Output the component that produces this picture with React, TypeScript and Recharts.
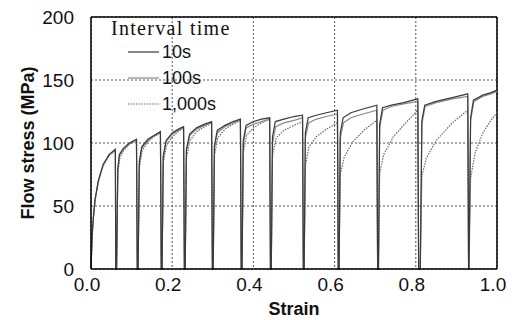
import { CartesianGrid, Line, LineChart, ReferenceLine, XAxis, YAxis } from "recharts";

// [strain, flow stress MPa], cycle by cycle (each cycle unloads to 0)
const s10: number[][] = [
  [0, 0], [0.003, 28], [0.006, 42], [0.01, 55], [0.018, 70], [0.03, 83], [0.045, 91], [0.06, 95], [0.061, 0],
  [0.063, 0], [0.066, 80], [0.07, 91], [0.08, 96], [0.095, 100], [0.112, 103], [0.114, 0],
  [0.116, 0], [0.119, 85], [0.125, 97], [0.14, 103], [0.155, 106], [0.171, 109], [0.173, 0],
  [0.175, 0], [0.178, 90], [0.185, 102], [0.2, 108], [0.215, 111], [0.228, 113], [0.23, 0],
  [0.232, 0], [0.235, 95], [0.243, 107], [0.26, 112], [0.28, 115], [0.297, 117], [0.299, 0],
  [0.301, 0], [0.304, 98], [0.311, 110], [0.33, 114], [0.35, 117], [0.368, 119], [0.37, 0],
  [0.372, 0], [0.375, 102], [0.382, 114], [0.4, 117], [0.42, 119], [0.44, 120], [0.442, 0],
  [0.444, 0], [0.447, 105], [0.454, 117], [0.475, 119], [0.5, 121], [0.521, 122], [0.523, 0],
  [0.525, 0], [0.528, 108], [0.535, 120], [0.555, 122], [0.58, 124], [0.607, 126], [0.609, 0],
  [0.611, 0], [0.614, 108], [0.621, 120], [0.64, 124], [0.67, 127], [0.704, 130], [0.706, 0],
  [0.708, 0], [0.711, 115], [0.718, 128], [0.74, 130], [0.77, 132], [0.805, 135], [0.807, 0],
  [0.811, 0], [0.815, 118], [0.822, 130], [0.85, 133], [0.89, 136], [0.928, 139], [0.93, 0],
  [0.931, 0], [0.935, 120], [0.942, 134], [0.965, 138], [0.985, 140], [1.0, 142],
];

const s100: number[][] = [
  [0, 0], [0.003, 27], [0.006, 41], [0.01, 55], [0.018, 70], [0.03, 83], [0.045, 91], [0.06, 94], [0.061, 0],
  [0.063, 0], [0.066, 78], [0.07, 90], [0.08, 95], [0.095, 100], [0.112, 102], [0.114, 0],
  [0.116, 0], [0.119, 83], [0.125, 96], [0.14, 102], [0.155, 106], [0.171, 108], [0.173, 0],
  [0.175, 0], [0.178, 88], [0.185, 101], [0.2, 107], [0.215, 110], [0.228, 112], [0.23, 0],
  [0.232, 0], [0.235, 93], [0.243, 106], [0.26, 111], [0.28, 114], [0.297, 116], [0.299, 0],
  [0.301, 0], [0.304, 96], [0.311, 108], [0.33, 113], [0.35, 116], [0.368, 118], [0.37, 0],
  [0.372, 0], [0.375, 99], [0.382, 112], [0.4, 115], [0.42, 117], [0.44, 119], [0.442, 0],
  [0.444, 0], [0.447, 100], [0.455, 113], [0.475, 116], [0.5, 118], [0.521, 120], [0.523, 0],
  [0.525, 0], [0.528, 104], [0.536, 116], [0.555, 119], [0.58, 121], [0.607, 123], [0.609, 0],
  [0.611, 0], [0.614, 104], [0.622, 116], [0.64, 120], [0.67, 123], [0.704, 126], [0.706, 0],
  [0.708, 0], [0.711, 112], [0.719, 126], [0.74, 129], [0.77, 131], [0.805, 133], [0.807, 0],
  [0.811, 0], [0.815, 115], [0.823, 129], [0.85, 132], [0.89, 135], [0.928, 137], [0.93, 0],
  [0.931, 0], [0.935, 118], [0.943, 133], [0.965, 137], [0.985, 139], [1.0, 141],
];

const s1000: number[][] = [
  [0, 0], [0.003, 27], [0.006, 41], [0.01, 54], [0.018, 69], [0.03, 82], [0.045, 90], [0.06, 94], [0.061, 0],
  [0.063, 0], [0.066, 76], [0.071, 88], [0.08, 94], [0.095, 99], [0.112, 102], [0.114, 0],
  [0.116, 0], [0.119, 80], [0.126, 94], [0.14, 101], [0.155, 105], [0.171, 108], [0.173, 0],
  [0.175, 0], [0.178, 84], [0.186, 98], [0.2, 105], [0.215, 109], [0.228, 112], [0.23, 0],
  [0.232, 0], [0.235, 88], [0.244, 102], [0.26, 109], [0.28, 113], [0.297, 116], [0.299, 0],
  [0.301, 0], [0.304, 90], [0.312, 104], [0.33, 111], [0.35, 115], [0.368, 118], [0.37, 0],
  [0.372, 0], [0.375, 92], [0.383, 106], [0.4, 112], [0.42, 116], [0.44, 119], [0.442, 0],
  [0.444, 0], [0.447, 90], [0.456, 104], [0.475, 110], [0.5, 114], [0.521, 117], [0.523, 0],
  [0.525, 0], [0.528, 82], [0.537, 97], [0.555, 105], [0.58, 111], [0.607, 116], [0.609, 0],
  [0.611, 0], [0.614, 75], [0.624, 89], [0.645, 101], [0.675, 111], [0.704, 118], [0.706, 0],
  [0.708, 0], [0.711, 76], [0.721, 91], [0.745, 105], [0.775, 116], [0.805, 126], [0.807, 0],
  [0.811, 0], [0.815, 74], [0.826, 88], [0.85, 102], [0.89, 116], [0.928, 126], [0.93, 0],
  [0.931, 0], [0.935, 72], [0.946, 92], [0.965, 108], [0.985, 118], [1.0, 124],
];

const xTicks = [0, 0.2, 0.4, 0.6, 0.8, 1.0];
const yTicks = [0, 50, 100, 150, 200];

const series = [
  { name: "1,000s", points: s1000, color: "#666", dash: "1.5 1.2" },
  { name: "100s", points: s100, color: "#8a8a8a", dash: undefined },
  { name: "10s", points: s10, color: "#3a3a3a", dash: undefined },
];

const toRows = (pts: number[][]) => pts.map(([x, y]) => ({ x, y }));

const sans = "'Liberation Sans', Arial, sans-serif";

export default function App() {
  return (
    <div style={{ position: "fixed", left: 0, top: 0, width: 516, height: 320, background: "#fff" }}>
      <LineChart width={516} height={320} margin={{ top: 17, right: 19, left: 0, bottom: 0 }}>
        <CartesianGrid stroke="#555" strokeDasharray="2 2" />
        <XAxis
          dataKey="x"
          type="number"
          domain={[0, 1]}
          ticks={xTicks}
          tickFormatter={(v: number) => v.toFixed(1)}
          height={51}
          tickLine={false}
          tickSize={0}
          tickMargin={9}
          axisLine={{ stroke: "#000", strokeWidth: 1.5 }}
          tick={{ fontSize: 19, fill: "#111", fontFamily: sans, dx: -4 }}
          label={{
            value: "Strain",
            position: "insideBottom",
            offset: 5,
            style: { fontSize: 18, fontWeight: 700, fill: "#111", fontFamily: sans },
          }}
        />
        <YAxis
          type="number"
          domain={[0, 200]}
          ticks={yTicks}
          width={91}
          tickLine={false}
          tickSize={0}
          tickMargin={17}
          axisLine={{ stroke: "#000", strokeWidth: 1.5 }}
          tick={{ fontSize: 19, fill: "#111", fontFamily: sans }}
          label={{
            value: "Flow stress (MPa)",
            angle: -90,
            position: "insideLeft",
            offset: 28,
            style: { textAnchor: "middle", fontSize: 18, fontWeight: 700, fill: "#111", fontFamily: sans },
          }}
        />
        <ReferenceLine y={200} stroke="#000" strokeWidth={1.5} />
        <ReferenceLine x={1} stroke="#000" strokeWidth={1.5} />
        {series.map((s) => (
          <Line
            key={s.name}
            data={toRows(s.points)}
            dataKey="y"
            name={s.name}
            type="linear"
            stroke={s.color}
            strokeWidth={1.2}
            strokeDasharray={s.dash}
            dot={false}
            isAnimationActive={false}
          />
        ))}
      </LineChart>
      <svg
        width={516}
        height={320}
        style={{ position: "absolute", left: 0, top: 0, pointerEvents: "none" }}
      >
        <text
          x={111}
          y={35}
          fontSize={20}
          letterSpacing={1.3}
          fill="#111"
          fontFamily="'Liberation Serif', 'Times New Roman', serif"
        >
          Interval time
        </text>
        {[...series].reverse().map((s, i) => {
          const y = 52 + i * 26;
          return (
            <g key={s.name}>
              <line x1={128} x2={159} y1={y} y2={y} stroke={s.color} strokeWidth={1.2} strokeDasharray={s.dash} />
              <text x={162} y={y} dy="0.35em" fontSize={18} fill="#111" fontFamily={sans}>
                {s.name}
              </text>
            </g>
          );
        })}
      </svg>
    </div>
  );
}
